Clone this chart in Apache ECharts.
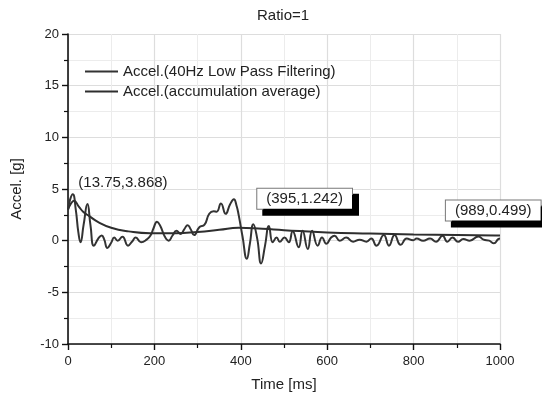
<!DOCTYPE html>
<html>
<head>
<meta charset="utf-8">
<script src="https://cdn.jsdelivr.net/npm/echarts@6/dist/echarts.min.js"></script>
<style>html,body{margin:0;padding:0;background:#fff;}#c{width:542px;height:397px;}</style>
</head>
<body>
<div id="c"></div>
<script>
var titleText = 'Ratio=1';
var seriesNames = ['Accel.(40Hz Low Pass Filtering)', 'Accel.(accumulation average)'];
var xName = 'Time [ms]';
var yName = 'Accel. [g]';
var filtered = [[0,3.0],[5,4.0],[11,4.5],[18,3.0],[24,0.8],[29,-0.15],[36,1.5],[45,3.55],[52,1.5],[60,-0.5],[70,0.2],[78,0.5],[84,0.1],[91,-0.7],[100,-0.2],[107,0.3],[115,0.0],[126,0.38],[139,-0.48],[148,-0.1],[157,0.3],[169,-0.15],[182,0.1],[191,0.5],[198,1.2],[206,1.84],[214,1.4],[224,0.4],[233,0.0],[242,0.5],[251,0.95],[261,0.65],[269,1.1],[277,1.5],[284,1.1],[292,0.54],[304,1.3],[316,1.55],[327,2.6],[337,2.85],[344,2.8],[354,3.6],[365,2.6],[375,3.5],[384,4.0],[390,3.4],[395,2.5],[404,0.4],[414,-1.75],[421,-0.3],[429,1.6],[438,0.2],[447,-2.2],[456,-0.5],[465,1.43],[474,-0.15],[483,0.3],[490,-0.1],[501,0.3],[511,-0.15],[520,0.9],[534,-0.63],[543,0.95],[555,-0.8],[565,0.95],[578,-0.48],[588,0.3],[598,-0.3],[609,0.3],[617,0.48],[629,0.0],[644,0.3],[660,-0.1],[675,0.1],[691,-0.1],[702,0.2],[714,-0.48],[731,0.54],[743,-0.48],[756,0.54],[770,-0.4],[784,0.2],[799,0.05],[807,0.2],[822,0],[838,0.2],[852,-0.1],[867,0.48],[878,-0.1],[890,0.3],[903,-0.1],[915,0.15],[930,0],[950,0.4],[962,0.1],[975,0],[986,-0.25],[996,0.15],[1000,0.2]];
var average = [[0,3.0],[7,3.6],[13.75,3.868],[25,3.3],[35,2.8],[50,2.35],[70,1.8],[100,1.25],[140,0.9],[190,0.72],[250,0.72],[300,0.85],[350,1.05],[395,1.242],[450,1.15],[500,1.02],[600,0.8],[700,0.69],[800,0.6],[900,0.54],[989,0.499],[1000,0.495]];
var notes = [
  {coord:[13.75,3.868], text:'(13.75,3.868)', box:false, offset:[49,-18]},
  {coord:[395,1.242], text:'(395,1.242)', box:true, offset:[66,-29]},
  {coord:[989,0.499], text:'(989,0.499)', box:true, offset:[-2,-25]}
];
var xTicks = {min:0, max:1000, interval:200};
var yTicks = {min:-10, max:20, interval:5};

var FONT = 'Liberation Sans, Arial, sans-serif';
var chart = echarts.init(document.getElementById('c'));
function axisCommon(){
  return {
    axisLine:{show:true, onZero:false, lineStyle:{color:'#111', width:1.6}},
    axisTick:{show:true, inside:false, length:6, lineStyle:{color:'#111', width:1.4}},
    minorTick:{show:true, splitNumber:2, length:4, lineStyle:{color:'#111', width:1.2}},
    splitLine:{show:true, lineStyle:{color:'#dddddd', width:1.2}},
    minorSplitLine:{show:true, lineStyle:{color:'#ececec', width:1}},
    axisLabel:{color:'#222', fontSize:13, fontFamily:FONT, formatter:function(v){return String(v);}},
    nameTextStyle:{color:'#222', fontSize:15, fontFamily:FONT}
  };
}
var xa = axisCommon();
Object.assign(xa, {type:'value', min:xTicks.min, max:xTicks.max, interval:xTicks.interval, name:xName, nameLocation:'middle', nameGap:33});
xa.axisLabel.margin = 11;
var ya = axisCommon();
Object.assign(ya, {type:'value', min:yTicks.min, max:yTicks.max, interval:yTicks.interval, name:yName, nameLocation:'middle', nameGap:44});
ya.axisLabel.margin = 9;

var mp = notes.map(function(n){
  var lab = {show:true, formatter:n.text, offset:n.offset, color:'#222', fontSize:15, fontFamily:FONT, position:'inside'};
  if(n.box){
    Object.assign(lab, {backgroundColor:'#fff', borderColor:'#777', borderWidth:1, padding:[3,9,2,9],
      shadowColor:'#000', shadowOffsetX:6, shadowOffsetY:6, shadowBlur:0});
  }
  return {coord:n.coord, symbol:'circle', symbolSize:0, label:lab};
});

chart.setOption({
  animation:false,
  backgroundColor:'#fff',
  title:{text:titleText, left:257, top:8, padding:0, textStyle:{color:'#222', fontSize:15, fontWeight:'normal', fontFamily:FONT}},
  legend:{orient:'vertical', left:85, top:64, padding:0, itemGap:5, itemWidth:33, itemHeight:2, icon:'rect',
    textStyle:{color:'#222', fontSize:15, fontFamily:FONT}, data:seriesNames},
  grid:{left:68, right:42, top:34, bottom:48},
  xAxis:xa,
  yAxis:ya,
  series:[
    {name:seriesNames[0], type:'line', data:filtered, smooth:0.5, showSymbol:false, symbol:'none',
      lineStyle:{color:'#333', width:2}, itemStyle:{color:'#333'}},
    {name:seriesNames[1], type:'line', data:average, smooth:0.5, showSymbol:false, symbol:'none',
      lineStyle:{color:'#2e2e2e', width:2}, itemStyle:{color:'#2e2e2e'},
      markPoint:{silent:true, data:mp}}
  ]
});
</script>
</body>
</html>
